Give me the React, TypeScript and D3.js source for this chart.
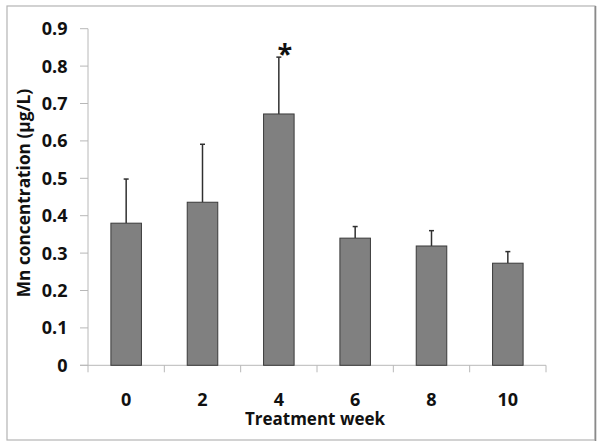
import React from "react";
import * as d3 from "d3";

const categories = ["0", "2", "4", "6", "8", "10"];
const means = [0.38, 0.436, 0.672, 0.34, 0.319, 0.273];
const errors = [0.118, 0.155, 0.152, 0.031, 0.041, 0.031];
const significant = [false, false, true, false, false, false];
const yTicks = [0, 0.1, 0.2, 0.3, 0.4, 0.5, 0.6, 0.7, 0.8, 0.9];
const yTickLabels = ["0", "0.1", "0.2", "0.3", "0.4", "0.5", "0.6", "0.7", "0.8", "0.9"];

const W = 602;
const H = 447;
const left = 88;
const right = 546;
const top = 28.7;
const bottom = 365.3;
const FONT = "'Open Sans', sans-serif";

export default function App() {
  const x = d3.scaleBand<string>().domain(categories).range([left, right]).paddingInner(0.6).paddingOuter(0.3);
  const y = d3.scaleLinear().domain([0, 0.9]).range([bottom, top]);
  const step = (right - left) / categories.length;

  return (
    <svg width={W} height={H} style={{ position: "absolute", left: 0, top: 0 }}>
      <rect x={0} y={0} width={W} height={H} fill="#fff" />
      <rect x={7} y={6} width={588} height={434} fill="none" stroke="#b4b4b4" strokeWidth={1.2} />
      <line x1={595.5} y1={6} x2={595.5} y2={441} stroke="#8a8a8a" strokeWidth={1.6} />
      {/* y axis */}
      <line x1={left} y1={top} x2={left} y2={bottom} stroke="#b8b8b8" strokeWidth={1} />
      {yTicks.map((t, i) => (
        <g key={i}>
          <line x1={left - 8} x2={left} y1={y(t)} y2={y(t)} stroke="#b8b8b8" strokeWidth={1} />
          <text x={67.5} y={y(t)} dy="0.36em" textAnchor="end" fontFamily={FONT} fontWeight={700} fontSize={18} fill="#111">
            {yTickLabels[i]}
          </text>
        </g>
      ))}
      {/* x axis */}
      <line x1={left - 8} x2={right} y1={bottom} y2={bottom} stroke="#b8b8b8" strokeWidth={1} />
      {d3.range(categories.length + 1).map((i) => (
        <line key={i} x1={left + i * step} x2={left + i * step} y1={bottom} y2={bottom + 7} stroke="#b8b8b8" strokeWidth={1} />
      ))}
      {categories.map((c, i) => {
        const cx = (x(c) as number) + x.bandwidth() / 2;
        const yTop = y(means[i] + errors[i]);
        return (
          <g key={c}>
            <line x1={cx} x2={cx} y1={y(means[i])} y2={yTop} stroke="#303030" strokeWidth={1.5} />
            <line x1={cx - 2.5} x2={cx + 2.5} y1={yTop} y2={yTop} stroke="#303030" strokeWidth={1.5} />
            <rect x={x(c)} y={y(means[i])} width={x.bandwidth()} height={bottom - y(means[i])} fill="#808080" stroke="#3a3a3a" strokeWidth={1} />
            <text x={cx} y={405.5} textAnchor="middle" fontFamily={FONT} fontWeight={700} fontSize={18} fill="#111">
              {c}
            </text>
            {significant[i] && (
              <text x={cx + 6} y={63} textAnchor="middle" fontFamily={FONT} fontWeight={700} fontSize={27} fill="#111">
                *
              </text>
            )}
          </g>
        );
      })}
      <text x={315} y={425} textAnchor="middle" fontFamily={FONT} fontWeight={700} fontSize={17} fill="#111">
        Treatment week
      </text>
      <text
        transform={`translate(30, 193) rotate(-90)`}
        textAnchor="middle"
        fontFamily={FONT}
        fontWeight={700}
        fontSize={17.3}
        fill="#111"
      >
        Mn concentration (µg/L)
      </text>
    </svg>
  );
}
